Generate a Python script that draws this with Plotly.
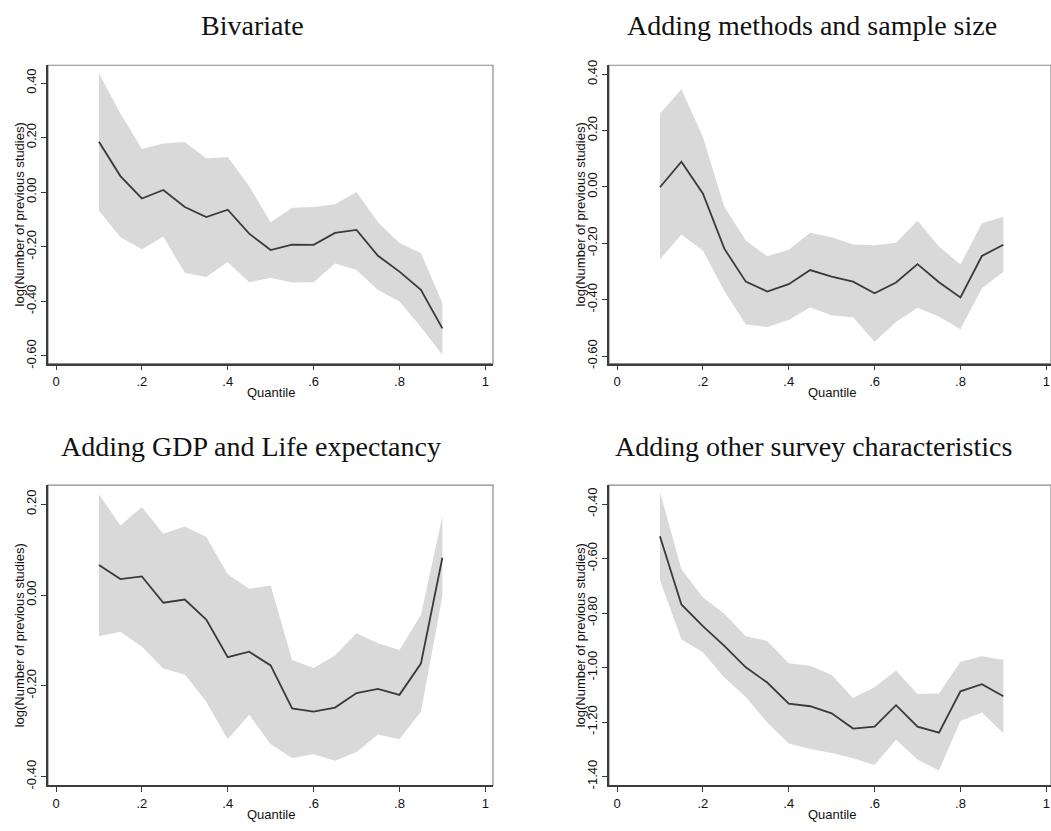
import plotly.graph_objects as go

W, H = 1051, 831

quantiles = [0.10, 0.15, 0.20, 0.25, 0.30, 0.35, 0.40, 0.45, 0.50,
             0.55, 0.60, 0.65, 0.70, 0.75, 0.80, 0.85, 0.90]

titles = ["Bivariate", "Adding methods and sample size",
          "Adding GDP and Life expectancy", "Adding other survey characteristics"]

# Panel 1: Bivariate
p1_coef = [0.185, 0.059, -0.023, 0.008, -0.054, -0.091, -0.064, -0.152, -0.212,
           -0.192, -0.193, -0.149, -0.138, -0.233, -0.291, -0.358, -0.499]
p1_hi = [0.436, 0.288, 0.158, 0.178, 0.184, 0.124, 0.129, 0.022, -0.110,
         -0.057, -0.054, -0.044, 0.001, -0.110, -0.186, -0.223, -0.406]
p1_lo = [-0.068, -0.165, -0.209, -0.162, -0.295, -0.311, -0.256, -0.330, -0.313,
         -0.331, -0.330, -0.261, -0.285, -0.358, -0.400, -0.494, -0.595]

# Panel 2: Adding methods and sample size
p2_coef = [-0.001, 0.090, -0.023, -0.219, -0.336, -0.371, -0.345, -0.295, -0.318,
           -0.336, -0.377, -0.339, -0.274, -0.338, -0.392, -0.245, -0.205]
p2_hi = [0.260, 0.347, 0.178, -0.070, -0.190, -0.246, -0.223, -0.162, -0.178,
         -0.204, -0.207, -0.198, -0.120, -0.211, -0.275, -0.129, -0.106]
p2_lo = [-0.257, -0.169, -0.225, -0.369, -0.488, -0.497, -0.472, -0.427, -0.456,
         -0.462, -0.549, -0.479, -0.429, -0.460, -0.505, -0.359, -0.301]

# Panel 3: Adding GDP and Life expectancy
p3_coef = [0.066, 0.035, 0.041, -0.017, -0.010, -0.054, -0.137, -0.125, -0.155,
           -0.250, -0.257, -0.248, -0.216, -0.207, -0.220, -0.151, 0.082]
p3_hi = [0.222, 0.153, 0.194, 0.135, 0.151, 0.128, 0.046, 0.014, 0.021,
         -0.143, -0.161, -0.133, -0.084, -0.106, -0.121, -0.044, 0.173]
p3_lo = [-0.091, -0.081, -0.114, -0.162, -0.175, -0.235, -0.318, -0.264, -0.329,
         -0.359, -0.351, -0.365, -0.346, -0.307, -0.318, -0.257, -0.003]

# Panel 4: Adding other survey characteristics
p4_coef = [-0.518, -0.768, -0.848, -0.920, -0.999, -1.055, -1.132, -1.142, -1.168,
           -1.224, -1.217, -1.138, -1.217, -1.239, -1.087, -1.061, -1.105]
p4_hi = [-0.354, -0.639, -0.742, -0.802, -0.885, -0.902, -0.984, -0.993, -1.027,
         -1.112, -1.072, -1.011, -1.097, -1.095, -0.979, -0.958, -0.972]
p4_lo = [-0.679, -0.896, -0.944, -1.036, -1.108, -1.202, -1.279, -1.299, -1.314,
         -1.333, -1.358, -1.265, -1.338, -1.378, -1.196, -1.165, -1.241]

x_tickvals = [0, 0.2, 0.4, 0.6, 0.8, 1.0]
x_ticktext = ["0", ".2", ".4", ".6", ".8", "1"]
y_ticks = [
    [-0.6, -0.4, -0.2, 0.0, 0.2, 0.4],
    [-0.6, -0.4, -0.2, 0.0, 0.2, 0.4],
    [-0.4, -0.2, 0.0, 0.2],
    [-1.4, -1.2, -1.0, -0.8, -0.6, -0.4],
]
y_ranges = [[-0.628, 0.465], [-0.627, 0.432], [-0.4196, 0.242], [-1.433, -0.330]]

panels = [(p1_coef, p1_hi, p1_lo), (p2_coef, p2_hi, p2_lo),
          (p3_coef, p3_hi, p3_lo), (p4_coef, p4_hi, p4_lo)]

# pixel geometry of plot boxes (left, right, top, bottom) and x=0 pixel
boxes = [(48, 493, 61, 363), (609, 1051, 61, 363),
         (48, 493, 486, 790), (609, 1051, 486, 790)]
x0px = [56, 617, 56, 617]
xscale = 429.3

band_color = "#d9d9d9"
line_color = "#3a3a3a"
axis_color = "#3c3c3c"
box_color = "#8a8a8a"
sans = "Liberation Sans, Arial"

fig = go.Figure()
layout = dict(width=W, height=H, margin=dict(l=0, r=0, t=0, b=0),
              paper_bgcolor="white", plot_bgcolor="white", showlegend=False)
annotations = []
shapes = []

for i, ((coef, hi, lo), (l, r, t, b)) in enumerate(zip(panels, boxes)):
    n = "" if i == 0 else str(i + 1)
    xa, ya = "x" + n, "y" + n
    fig.add_trace(go.Scatter(x=quantiles, y=hi, mode="lines", line=dict(width=0, color=band_color),
                             xaxis=xa, yaxis=ya, hoverinfo="skip"))
    fig.add_trace(go.Scatter(x=quantiles, y=lo, mode="lines", line=dict(width=0, color=band_color),
                             fill="tonexty", fillcolor=band_color, xaxis=xa, yaxis=ya, hoverinfo="skip"))
    fig.add_trace(go.Scatter(x=quantiles, y=coef, mode="lines", line=dict(width=1.8, color=line_color),
                             xaxis=xa, yaxis=ya))
    xr = [(l - x0px[i]) / xscale, (r - x0px[i]) / xscale]
    layout["xaxis" + n] = dict(
        domain=[l / W, r / W], range=xr, anchor=ya, showgrid=False, zeroline=False,
        showline=True, linecolor=axis_color, linewidth=1.5,
        ticks="outside", ticklen=5, tickwidth=1, tickcolor=axis_color,
        tickvals=x_tickvals, ticktext=x_ticktext,
        tickfont=dict(family=sans, size=13, color="#111"),
    )
    layout["yaxis" + n] = dict(
        domain=[1 - b / H, 1 - t / H], range=y_ranges[i], anchor=xa, showgrid=False, zeroline=False,
        showline=True, linecolor=axis_color, linewidth=1.5,
        ticks="outside", ticklen=5, tickwidth=1, tickcolor=axis_color,
        tickvals=y_ticks[i], ticktext=["%.2f" % v for v in y_ticks[i]],
        tickangle=-90,
        tickfont=dict(family=sans, size=13, color="#111"),
    )
    shapes.append(dict(type="rect", xref=xa + " domain", yref=ya + " domain",
                       x0=0, x1=1, y0=0, y1=1, line=dict(color=box_color, width=1.2),
                       layer="below"))
    annotations.append(dict(text="log(Number of previous studies)", xref="paper", yref="paper",
                            x=(l - 29) / W, y=1 - ((t + b) / 2) / H, textangle=-90,
                            showarrow=False, xanchor="center", yanchor="middle",
                            font=dict(family=sans, size=13, color="#111")))
    annotations.append(dict(text="Quantile", xref="paper", yref="paper",
                            x=(x0px[i] + 0.5 * xscale) / W, y=1 - (b + 29) / H,
                            showarrow=False, xanchor="center", yanchor="middle",
                            font=dict(family=sans, size=13, color="#111")))

title_pos = [(252, 21), (812, 21), (251, 446.5), (813, 446.5)]
for txt, (tx, ty) in zip(titles, title_pos):
    annotations.append(dict(text=txt, xref="paper", yref="paper", x=tx / W, y=1 - ty / H,
                            showarrow=False, xanchor="center", yanchor="middle",
                            font=dict(family="Liberation Serif, Times New Roman", size=28, color="#111")))

layout["annotations"] = annotations
layout["shapes"] = shapes
fig.update_layout(**layout)
fig.write_html("out.html")
